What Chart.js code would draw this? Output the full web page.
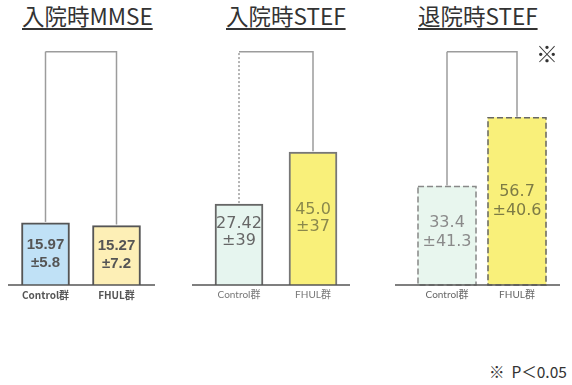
<!DOCTYPE html>
<html>
<head>
<meta charset="utf-8">
<title>入院時MMSE・STEF</title>
<script src="https://cdn.jsdelivr.net/npm/chart.js"></script>
<style>
    body { margin: 0; width: 572px; height: 385px; background: #fff; position: relative; overflow: hidden;
           font-family: "Noto Sans CJK JP", sans-serif; }
    .ttl { position: absolute; top: -1px; font-size: 22.5px; color: #333; white-space: nowrap;
           text-decoration: underline; text-decoration-thickness: 1.5px; text-underline-offset: 3px; }
    canvas { position: absolute; top: 40px; }
    .mark { position: absolute; left: 536px; top: 36px; font-size: 22px; color: #333; }
    .note { position: absolute; left: 489px; top: 360px; font-size: 15.5px; color: #333; white-space: nowrap; }
</style>
</head>
<body>
    <div class="ttl" style="left:22px">入院時MMSE</div>
    <div class="ttl" style="left:226px">入院時STEF</div>
    <div class="ttl" style="left:418px">退院時STEF</div>
    <canvas id="c1" width="190" height="271" style="left:0px"></canvas>
    <canvas id="c2" width="190" height="271" style="left:190px"></canvas>
    <canvas id="c3" width="192" height="271" style="left:380px"></canvas>
    <div class="mark">※</div>
    <div class="note">※&nbsp; P＜0.05</div>

<script>
    const groups = ['Control群', 'FHUL群'];

    // 入院時MMSE
    const mmseAdm = [15.97, 15.27];
    const mmseAdmSd = [5.8, 7.2];
    const mmseAdmDec = [2, 2];

    // 入院時STEF
    const stefAdm = [27.42, 45.0];
    const stefAdmSd = [39, 37];
    const stefAdmDec = [2, 1];

    // 退院時STEF
    const stefDis = [33.4, 56.7];
    const stefDisSd = [41.3, 40.6];
    const stefDisDec = [1, 1];

    // bracket height (in axis units) and axis max for each panel
    const bracketTop = [60, 79, 79];
    const axisMax = [63, 83, 83];

    // bracket linking the two bars, plus value labels and base line
    const panelPlugin = {
        id: 'panel',
        afterDatasetsDraw(chart, args, o) {
            const ctx = chart.ctx;
            const bars = chart.getDatasetMeta(0).data;
            const y0 = chart.scales.y.getPixelForValue(0);
            const yb = chart.scales.y.getPixelForValue(o.top);
            ctx.save();

            // dashed outlines
            if (o.dashed) {
                bars.forEach((b, i) => {
                    const w = b.width;
                    ctx.strokeStyle = o.dashColors[i];
                    ctx.lineWidth = 1.5;
                    ctx.setLineDash([6, 3]);
                    ctx.strokeRect(b.x - w / 2, b.y, w, y0 - b.y);
                });
            }

            ctx.strokeStyle = '#9c9c9c';
            ctx.lineWidth = 1.5;
            ctx.setLineDash(o.dottedLeft ? [2, 2] : []);
            ctx.beginPath();
            ctx.moveTo(bars[0].x, bars[0].y - 1);
            ctx.lineTo(bars[0].x, yb);
            ctx.stroke();
            ctx.setLineDash([]);
            ctx.beginPath();
            ctx.moveTo(bars[0].x, yb);
            ctx.lineTo(bars[1].x, yb);
            ctx.lineTo(bars[1].x, bars[1].y - 1);
            ctx.stroke();

            // base line
            ctx.strokeStyle = '#555';
            ctx.beginPath();
            ctx.moveTo(chart.chartArea.left - o.extL, y0);
            ctx.lineTo(chart.chartArea.right + o.extR, y0);
            ctx.stroke();

            // mean ± SD
            ctx.font = o.font;
            ctx.textAlign = 'center';
            ctx.textBaseline = 'middle';
            const vals = chart.data.datasets[0].data;
            bars.forEach((b, i) => {
                const cy = (b.y + y0) / 2 + o.shift[i];
                ctx.fillStyle = o.textColors[i];
                ctx.fillText(vals[i].toFixed(o.dec[i]), b.x, cy - o.lh / 2);
                ctx.fillText('±' + o.sd[i], b.x, cy + o.lh / 2);
            });
            ctx.restore();
        }
    };

    function makePanel(id, values, opts) {
        new Chart(document.getElementById(id), {
            type: 'bar',
            data: {
                labels: groups,
                datasets: [{
                    data: values,
                    backgroundColor: opts.fill,
                    borderColor: opts.border,
                    borderWidth: opts.dashed ? 0 : 2,
                    borderSkipped: 'bottom',
                    barThickness: opts.barW
                }]
            },
            options: {
                responsive: false,
                animation: false,
                layout: { padding: { top: 0, bottom: 6, left: opts.padL, right: opts.padR } },
                scales: {
                    x: {
                        grid: { display: false, drawTicks: false },
                        border: { display: false },
                        ticks: { color: opts.tickColor, font: { family: opts.tickFamily, size: 10, weight: opts.tickWeight }, padding: 4 }
                    },
                    y: { display: false, min: 0, max: opts.max }
                },
                plugins: {
                    legend: { display: false },
                    tooltip: { enabled: false },
                    panel: {
                        top: opts.top, dottedLeft: opts.dottedLeft, dashed: opts.dashed,
                        dashColors: opts.border, extL: opts.extL, extR: opts.extR,
                        font: opts.font, lh: opts.lh, textColors: opts.textColors,
                        sd: opts.sd, dec: opts.dec, shift: opts.shift
                    }
                }
            },
            plugins: [panelPlugin]
        });
    }

    makePanel('c1', mmseAdm, {
        fill: ['#c0e1f6', '#fdefb6'], border: ['#555', '#555'], barW: 48,
        padL: 10, padR: 38, extL: 2, extR: 3, max: axisMax[0], top: bracketTop[0],
        tickColor: '#555', tickWeight: 'bold', tickFamily: '"Liberation Sans Narrow", "Noto Sans CJK JP"',
        font: 'bold 15px "Liberation Sans Narrow", "Liberation Sans"', lh: 18, textColors: ['#555', '#555'],
        sd: mmseAdmSd, dec: mmseAdmDec, shift: [0, 0]
    });
    makePanel('c2', stefAdm, {
        fill: ['#e6f5ef', '#f9f07a'], border: ['#666', '#777'], barW: 48,
        padL: 12, padR: 30, extL: 10, extR: 0, max: axisMax[1], top: bracketTop[1],
        dottedLeft: true, tickColor: '#777', tickWeight: 'normal', tickFamily: 'Lato, "Noto Sans CJK JP"',
        font: '16px "DejaVu Sans"', lh: 17, textColors: ['#666', '#8a884c'],
        sd: stefAdmSd, dec: stefAdmDec, shift: [-12, 0]
    });
    makePanel('c3', stefDis, {
        fill: ['#e8f6ee', '#f9f07a'], border: ['#888', '#666'], barW: 58, dashed: true,
        padL: 32, padR: 20, extL: 17, extR: 8, max: axisMax[2], top: bracketTop[2],
        tickColor: '#666', tickWeight: 'normal', tickFamily: 'Lato, "Noto Sans CJK JP"',
        font: '16px "DejaVu Sans"', lh: 19, textColors: ['#8a8a8a', '#7d7b45'],
        sd: stefDisSd, dec: stefDisDec, shift: [-3, 0]
    });
</script>
</body>
</html>
